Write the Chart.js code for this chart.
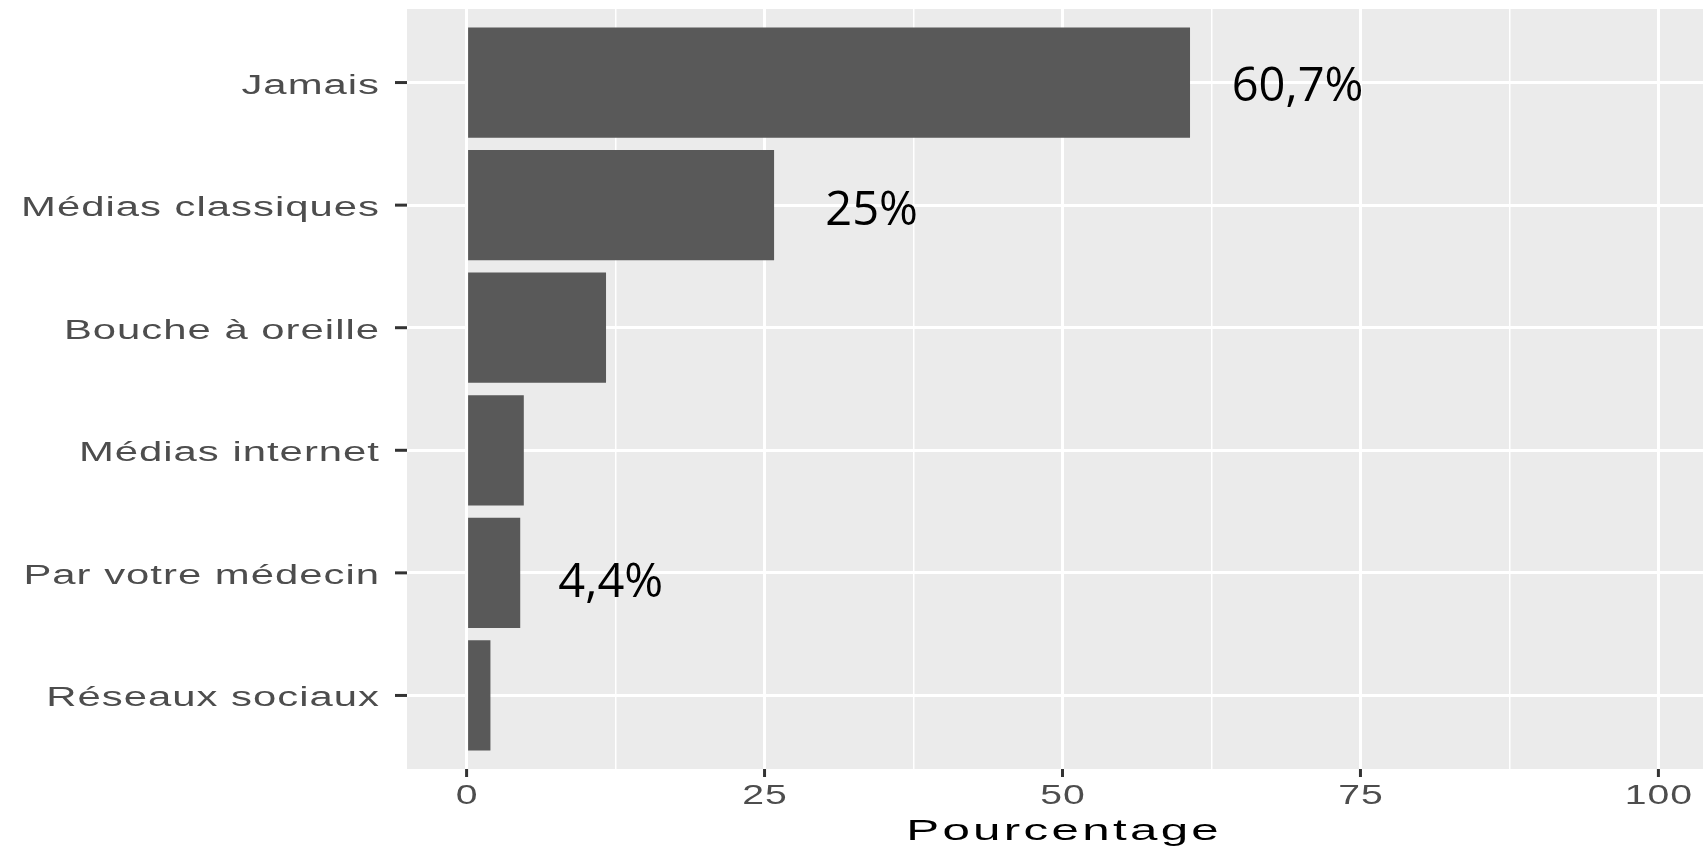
<!DOCTYPE html>
<html lang="fr">
<head>
  <meta charset="UTF-8">
  <title>Pourcentage</title>
  <script src="https://cdn.jsdelivr.net/npm/chart.js"></script>
  <style>
    html, body { margin: 0; padding: 0; background: #ffffff; overflow: hidden; }
    #wrap { width: 1718px; height: 851px; position: relative; }
  </style>
</head>
<body>
<div id="wrap">
  <canvas id="barChart"></canvas>
</div>

<script>
  // Data
  const categories = ['Jamais', 'Médias classiques', 'Bouche à oreille', 'Médias internet', 'Par votre médecin', 'Réseaux sociaux'];
  const values = [60.7, 25.8, 11.7, 4.8, 4.5, 2.0];
  const xTicks = [0, 25, 50, 75, 100];
  const xMinorTicks = [12.5, 37.5, 62.5, 87.5];
  const xTitle = 'Pourcentage';

  // Text boxes placed on the chart (baseline row position, text, x in percent units)
  const noteRows = [0.15, 1.16, 4.2];
  const noteTexts = ['60,7%', '25%', '4,4%'];
  const noteAt = [64.2, 30.1, 7.7];

  const axisFont = '"Liberation Sans", Arial, sans-serif';

  // Draw text a bit wider, like the stretched ggplot export
  function drawWide(ctx, text, x, y, align, stretch, spacing) {
    ctx.letterSpacing = '0px';
    const w = ctx.measureText(text).width * stretch + spacing * (text.length - 1);
    let left = x;
    if (align === 'right') left = x - w;
    if (align === 'center') left = x - w / 2;
    ctx.save();
    ctx.translate(left, y);
    ctx.scale(stretch, 1);
    ctx.textAlign = 'left';
    ctx.letterSpacing = (spacing / stretch) + 'px';
    ctx.fillText(text, 0, 0);
    ctx.restore();
    ctx.letterSpacing = '0px';
  }

  const panelPlugin = {
    id: 'panel',
    beforeDraw(chart) {
      const { ctx, chartArea: a } = chart;
      ctx.save();
      ctx.fillStyle = '#EBEBEB';
      ctx.fillRect(a.left, a.top, a.right - a.left, a.bottom - a.top);
      ctx.restore();
    },
    afterDraw(chart) {
      const { ctx, chartArea: a } = chart;
      const xs = chart.scales.x;
      const ys = chart.scales.y;
      ctx.save();

      // y ticks and labels
      ctx.strokeStyle = '#333333';
      ctx.lineWidth = 3;
      ctx.fillStyle = '#4D4D4D';
      ctx.font = '27px ' + axisFont;
      ctx.textBaseline = 'alphabetic';
      categories.forEach((c, i) => {
        const y = ys.getPixelForValue(i);
        ctx.beginPath();
        ctx.moveTo(a.left - 12, y);
        ctx.lineTo(a.left, y);
        ctx.stroke();
        drawWide(ctx, c, a.left - 28, y + 11, 'right', 1.55, 1.0);
      });

      // x ticks and labels
      xTicks.forEach(v => {
        const x = xs.getPixelForValue(v);
        ctx.beginPath();
        ctx.moveTo(x, a.bottom);
        ctx.lineTo(x, a.bottom + 8);
        ctx.stroke();
        drawWide(ctx, String(v), x, a.bottom + 35, 'center', 1.45, 1.0);
      });

      // x title
      ctx.fillStyle = '#000000';
      ctx.font = '29px ' + axisFont;
      drawWide(ctx, xTitle, (a.left + a.right) / 2, 840, 'center', 1.7, 3.3);

      // percentage text boxes
      ctx.font = '47px "Open Sans", sans-serif';
      ctx.fillStyle = '#000000';
      ctx.textAlign = 'left';
      noteTexts.forEach((t, i) => {
        const x = xs.getPixelForValue(noteAt[i]);
        const y = ys.getPixelForValue(noteRows[i]);
        ctx.fillText(t, x, y);
      });
      ctx.restore();
    }
  };

  const isMajor = v => xTicks.includes(v);

  new Chart(document.getElementById('barChart').getContext('2d'), {
    type: 'bar',
    data: {
      datasets: [{
        data: values.map((v, i) => ({ x: v, y: i })),
        backgroundColor: '#595959',
        borderWidth: 0,
        categoryPercentage: 1,
        barPercentage: 0.9
      }]
    },
    options: {
      indexAxis: 'y',
      responsive: true,
      maintainAspectRatio: false,
      animation: false,
      layout: { padding: { left: 407, top: 9, bottom: 82, right: 0 } },
      plugins: { legend: { display: false }, tooltip: { enabled: false } },
      scales: {
        x: {
          type: 'linear',
          min: -5,
          max: 105,
          offset: false,
          afterBuildTicks: s => { s.ticks = xTicks.concat(xMinorTicks).map(v => ({ value: v })); },
          ticks: { display: false },
          border: { display: false },
          grid: {
            color: '#FFFFFF',
            offset: false,
            lineWidth: c => (c.tick && isMajor(c.tick.value)) ? 3 : 1.5,
            drawTicks: false
          }
        },
        y: {
          type: 'linear',
          min: -0.6,
          max: categories.length - 0.4,
          reverse: true,
          offset: false,
          afterBuildTicks: s => { s.ticks = categories.map((c, i) => ({ value: i })); },
          ticks: { display: false },
          border: { display: false },
          grid: { color: '#FFFFFF', lineWidth: 3, offset: false, drawTicks: false }
        }
      }
    },
    plugins: [panelPlugin]
  });
</script>
</body>
</html>
